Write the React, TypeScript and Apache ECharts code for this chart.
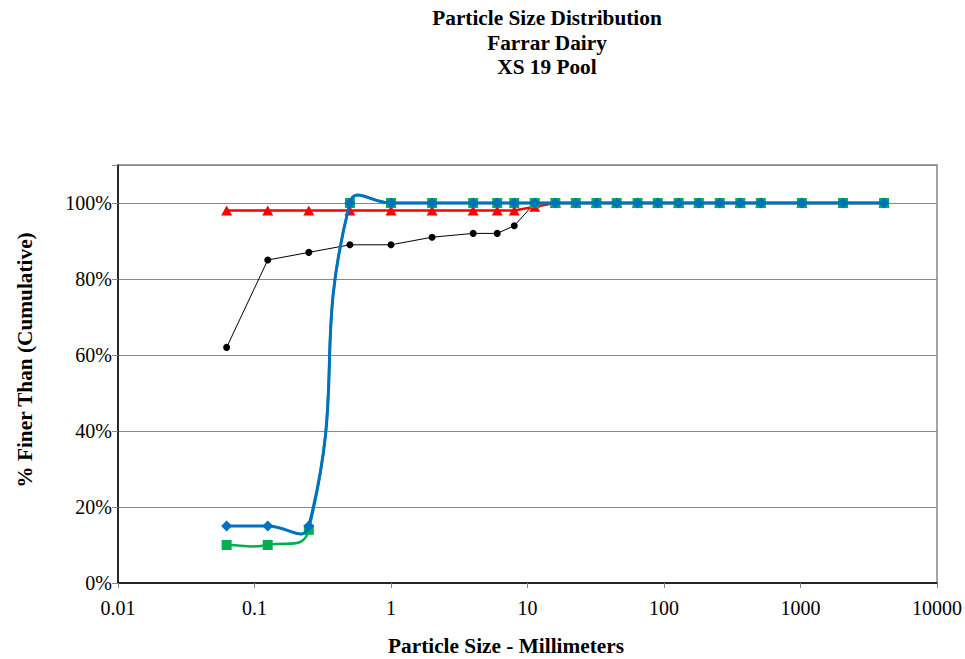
import React, { useEffect, useRef } from "react";
import * as echarts from "echarts";

const titleLines = ["Particle Size Distribution", "Farrar Dairy", "XS 19 Pool"];
const xAxisTitle = "Particle Size - Millimeters";
const yAxisTitle = "% Finer Than (Cumulative)";
const xTickLabels = ["0.01", "0.1", "1", "10", "100", "1000", "10000"];

const sizes = [0.0625, 0.125, 0.25, 0.5, 1, 2, 4, 6, 8, 11.3, 16, 22.6, 32, 45, 64, 90, 128, 180, 256, 362, 512, 1024, 2048, 4096];
const blackValues = [62, 85, 87, 89, 89, 91, 92, 92, 94, 100, 100, 100, 100, 100, 100, 100, 100, 100, 100, 100, 100, 100, 100, 100];
const redValues = [98, 98, 98, 98, 98, 98, 98, 98, 98, 99, 100, 100, 100, 100, 100, 100, 100, 100, 100, 100, 100, 100, 100, 100];
const greenValues = [10, 10, 14, 100, 100, 100, 100, 100, 100, 100, 100, 100, 100, 100, 100, 100, 100, 100, 100, 100, 100, 100, 100, 100];
const blueValues = [15, 15, 15, 100, 100, 100, 100, 100, 100, 100, 100, 100, 100, 100, 100, 100, 100, 100, 100, 100, 100, 100, 100, 100];

const pairs = (vals: number[]) => sizes.map((s, i) => [s, vals[i]]);

const FONT = "Liberation Serif";

// Smooth curve (chord-weighted Catmull-Rom, like a spreadsheet "smoothed line")
function smoothSeries(vals: number[], color: string, width: number, z: number) {
  const n = sizes.length;
  return {
    type: "custom",
    coordinateSystem: "cartesian2d",
    data: pairs(vals),
    encode: { x: 0, y: 1 },
    z,
    silent: true,
    renderItem: (params: any, api: any) => {
      const i = params.dataIndex;
      if (i >= n - 1) return { type: "group", children: [] };
      const cl = (k: number) => Math.max(0, Math.min(n - 1, k));
      const P = (k: number) => api.coord([sizes[cl(k)], vals[cl(k)]]);
      const p0 = P(i - 1), p1 = P(i), p2 = P(i + 1), p3 = P(i + 2);
      const d = (a: number[], b: number[]) => Math.hypot(a[0] - b[0], a[1] - b[1]);
      const d01 = d(p0, p1), d12 = d(p1, p2), d23 = d(p2, p3);
      const r1 = d01 + d12 > 0 ? d12 / (d01 + d12) : 0;
      const r2 = d12 + d23 > 0 ? d12 / (d12 + d23) : 0;
      const s = 0.5;
      const cp1 = [p1[0] + (p2[0] - p0[0]) * s * r1, p1[1] + (p2[1] - p0[1]) * s * r1];
      const cp2 = [p2[0] - (p3[0] - p1[0]) * s * r2, p2[1] - (p3[1] - p1[1]) * s * r2];
      return {
        type: "bezierCurve",
        shape: {
          x1: p1[0], y1: p1[1], x2: p2[0], y2: p2[1],
          cpx1: cp1[0], cpy1: cp1[1], cpx2: cp2[0], cpy2: cp2[1],
        },
        style: { stroke: color, lineWidth: width, fill: null },
      };
    },
  };
}

export default function App() {
  const ref = useRef<HTMLDivElement>(null);
  useEffect(() => {
    document.body.style.margin = "0";
    const chart = echarts.init(ref.current!, null, { renderer: "svg" });
    const boldText = { fontFamily: FONT, fontWeight: "bold", fontSize: 21.3, fill: "#000" };
    chart.setOption({
      animation: false,
      backgroundColor: "#fff",
      textStyle: { fontFamily: FONT },
      graphic: [
        ...titleLines.map((t, i) => ({
          type: "text",
          x: 547,
          y: 18 + i * 24.5,
          style: { ...boldText, text: t, textAlign: "center", textVerticalAlign: "middle" },
        })),
        {
          type: "text",
          x: 506,
          y: 646,
          style: { ...boldText, text: xAxisTitle, textAlign: "center", textVerticalAlign: "middle" },
        },
        {
          type: "text",
          x: 25,
          y: 360,
          rotation: Math.PI / 2,
          style: { ...boldText, text: yAxisTitle, textAlign: "center", textVerticalAlign: "middle" },
        },
      ],
      grid: {
        left: 118,
        top: 165,
        right: 28,
        bottom: 76,
        show: true,
        borderColor: "#888",
        borderWidth: 1.5,
        backgroundColor: "transparent",
      },
      xAxis: {
        type: "log",
        logBase: 10,
        min: 0.01,
        max: 10000,
        axisLine: { onZero: false, lineStyle: { color: "#000", width: 1.5 } },
        axisTick: { show: true, length: 5, inside: false, lineStyle: { color: "#888" } },
        minorTick: { show: false },
        splitLine: { show: false },
        axisLabel: {
          fontFamily: FONT,
          fontSize: 20,
          color: "#000",
          margin: 15,
          formatter: (v: number) => {
            const e = Math.round(Math.log10(v));
            return xTickLabels[e + 2] ?? "";
          },
        },
      },
      yAxis: {
        type: "value",
        min: 0,
        max: 110,
        interval: 20,
        axisLine: { show: true, lineStyle: { color: "#000", width: 1.5 } },
        axisTick: { show: true, length: 6, lineStyle: { color: "#888" } },
        splitLine: { show: true, lineStyle: { color: "#888", width: 1 } },
        axisLabel: {
          fontFamily: FONT,
          fontSize: 20,
          color: "#000",
          margin: 6,
          formatter: (v: number) => (v > 100 ? "" : v + "%"),
        },
      },
      series: [
        {
          type: "line",
          data: pairs(blackValues),
          symbol: "circle",
          symbolSize: 7,
          lineStyle: { color: "#000", width: 1 },
          itemStyle: { color: "#000" },
          z: 2,
        },
        {
          type: "line",
          data: pairs(redValues),
          symbol: "triangle",
          symbolSize: [11, 10],
          lineStyle: { color: "#FF0000", width: 2.5 },
          itemStyle: { color: "#FF0000" },
          z: 3,
        },
        smoothSeries(greenValues, "#00B050", 2.5, 4),
        {
          type: "line",
          data: pairs(greenValues),
          symbol: "rect",
          symbolSize: 10,
          lineStyle: { opacity: 0 },
          itemStyle: { color: "#00B050" },
          z: 5,
        },
        smoothSeries(blueValues, "#0070C0", 3, 6),
        {
          type: "line",
          data: pairs(blueValues),
          symbol: "diamond",
          symbolSize: 11,
          lineStyle: { opacity: 0 },
          itemStyle: { color: "#0070C0" },
          z: 7,
        },
      ],
    });
    return () => chart.dispose();
  }, []);
  return <div ref={ref} style={{ width: 965, height: 659 }} />;
}
